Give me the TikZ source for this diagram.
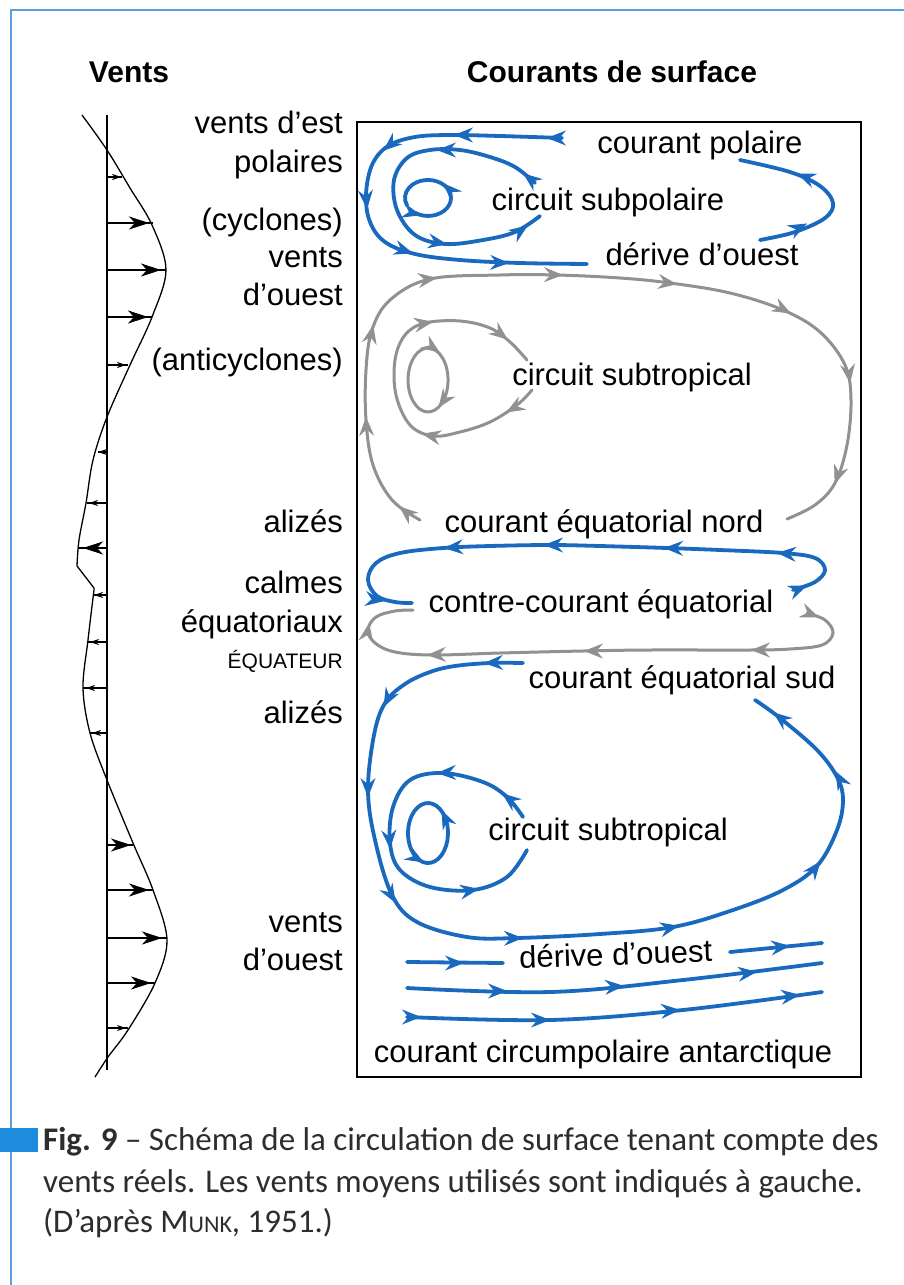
\documentclass[tikz,border=0pt]{standalone}
\usepackage{fontspec}
\setmainfont{Liberation Sans}
\newfontfamily\capfont{Carlito}
\usetikzlibrary{arrows.meta}
\definecolor{cblue}{RGB}{25,105,190}
\definecolor{cgray}{RGB}{145,145,145}
\definecolor{frameblue}{RGB}{90,160,225}
\definecolor{squareblue}{RGB}{30,140,220}
\definecolor{captext}{RGB}{45,45,45}
\tikzset{
  cur/.tip={Stealth[length=19pt,width=15pt,inset=6.5pt]},
  wbig/.tip={Stealth[length=20pt,width=13pt,inset=6pt]},
  wsmall/.tip={Stealth[length=9pt,width=6pt,inset=3pt]},
  bl/.style={color=cblue,line width=3.8pt,line cap=round},
  gr/.style={color=cgray,line width=3pt,line cap=round},
  blt/.style={color=cblue,line width=1pt,-{cur}},
  grt/.style={color=cgray,line width=1pt,-{cur}},
  wline/.style={draw=black,line width=1.3pt},
  wbt/.style={draw=black,line width=0.8pt,-{wbig}},
  wst/.style={draw=black,line width=0.8pt,-{wsmall}},
  lbl/.style={font=\fontsize{31}{37}\selectfont,inner sep=0pt},
  lblsmall/.style={font=\fontsize{21}{25}\selectfont,inner sep=0pt},
  ttl/.style={font=\fontsize{30}{36}\selectfont\bfseries,inner sep=0pt},
  captxt/.style={font=\capfont\fontsize{33}{42}\selectfont,text=captext,inner sep=0pt,anchor=base west},
}
% arrowhead on a current: style, x, y, direction (clockwise on screen from east)
\newcommand{\tipon}[4]{\draw[#1] (#2,#3) -- ++(#4:1);}
\begin{document}
\begin{tikzpicture}[x=1pt,y=-1pt]
\useasboundingbox (0,0) rectangle (904,1285);
\fill[white] (0,0) rectangle (904,1285);
% frame lines
\draw[frameblue,line width=2pt] (11,1285) -- (11,10) -- (904,10);
\fill[squareblue] (0,1128) rectangle (38,1152);

% titles
\node[ttl] (tv) at (129,72) {Vents};
\node[ttl] (tc) at (612,72) {Courants de surface};

% left wind profile
\draw[line width=1.3pt] (107,115) -- (107,1070);
\draw[line width=1.3pt] plot[smooth,tension=0.55] coordinates {(82,115) (107,150) (130,188) (152,225) (166,270) (152,317) (130,365) (107,417) (93,460) (86,503) (79,540) (77,566)}
  -- (94,588) -- plot[smooth,tension=0.55] coordinates {(94,590) (88,640) (83,688) (90,733) (107,780) (133,843) (153,890) (167,940) (155,983) (128,1030) (108,1057) (95,1077)};
% wind arrows: shaft to the curve, then tip
\foreach \y/\xe/\xt/\k in {177/122/121/wst, 223/153/149/wbt, 270/166/161/wbt, 317/152/148/wbt, 365/128/126/wst,
  452/98/98/wst, 503/87/89/wst, 548/78/83/wbt, 595/93/94/wst, 642/88/90/wst, 688/83/86/wst, 733/90/92/wst,
  845/133/131/wbt, 890/153/149/wbt, 938/167/162/wbt, 983/155/151/wbt, 1028/128/126/wst}{
  \draw[wline] (107,\y) -- (\xe,\y);
  \draw[\k] (107,\y) -- (\xt,\y);
}

% left labels
\node[lbl,anchor=base east] (l1) at (343,133) {vents d’est};
\node[lbl,anchor=base east] (l2) at (343,172) {polaires};
\node[lbl,anchor=base east] (l3) at (343,230) {(cyclones)};
\node[lbl,anchor=base east] (l4) at (343,267) {vents};
\node[lbl,anchor=base east] (l5) at (343,305) {d’ouest};
\node[lbl,anchor=base east] (l6) at (343,370) {(anticyclones)};
\node[lbl,anchor=base east] (l7) at (343,532) {alizés};
\node[lbl,anchor=base east] (l8) at (343,593) {calmes};
\node[lbl,anchor=base east] (l9) at (343,632) {équatoriaux};
\node[lblsmall,anchor=base east] (l10) at (343,668) {ÉQUATEUR};
\node[lbl,anchor=base east] (l11) at (343,723) {alizés};
\node[lbl,anchor=base east] (l12) at (343,932) {vents};
\node[lbl,anchor=base east] (l13) at (343,970) {d’ouest};

% box
\draw[line width=1.8pt] (357,122) rectangle (861,1077);

% right labels
\node[lbl,anchor=base] (r1) at (700,153) {courant polaire};
\node[lbl,anchor=base] (r2) at (608,210) {circuit subpolaire};
\node[lbl,anchor=base] (r3) at (702,265) {dérive d’ouest};
\node[lbl,anchor=base] (r4) at (632,385) {circuit subtropical};
\node[lbl,anchor=base] (r5) at (604,532) {courant équatorial nord};
\node[lbl,anchor=base] (r6) at (601,612) {contre-courant équatorial};
\node[lbl,anchor=base] (r7) at (682,688) {courant équatorial sud};
\node[lbl,anchor=base] (r8) at (608,840) {circuit subtropical};
\node[lbl,anchor=base,rotate=2] (r9) at (616,965) {dérive d’ouest};
\node[lbl,anchor=base] (r10) at (603,1062) {courant circumpolaire antarctique};

% ---- North subpolar (blue)
\draw[bl] plot[smooth,tension=0.6] coordinates {(562,138) (500,136) (450,135) (415,137) (388,146) (372,165) (366,195) (370,222) (385,242) (415,254) (460,260) (520,263) (587,264)};
\tipon{blt}{548}{138}{180} \tipon{blt}{455}{135}{180} \tipon{blt}{384}{150}{140}
\tipon{blt}{367}{208}{85} \tipon{blt}{412}{253}{18} \tipon{blt}{508}{263}{2}
\draw[bl] plot[smooth,tension=0.6] coordinates {(535,183) (515,167) (490,157) (460,150) (430,150) (407,158) (394,180) (397,210) (415,235) (445,244) (483,240) (515,232) (540,216)};
\tipon{blt}{524}{174}{-142} \tipon{blt}{438}{150}{180} \tipon{blt}{446}{244}{10} \tipon{blt}{527}{226}{-35}
\draw[bl] (414.8,212.7) arc[start angle=125,end angle=-205,x radius=23,y radius=18];
\tipon{blt}{420}{215}{15} \tipon{blt}{444}{184}{-135}
\draw[bl] plot[smooth,tension=0.6] coordinates {(760,240) (795,232) (825,218) (833,203) (820,186) (790,172) (740,160)};
\tipon{blt}{806}{224}{-27} \tipon{blt}{798}{174}{-158}

% ---- North subtropical (gray)
\draw[gr] plot[smooth,tension=0.6] coordinates {(420,520) (392,500) (373,465) (366,420) (366,370) (372,330) (390,300) (430,279) (500,275) (557,275) (620,278) (670,283) (730,293) (783,310) (820,332) (845,365) (851,400) (847,445) (835,483) (815,505) (787,519)};
\tipon{grt}{400}{507}{-140} \tipon{grt}{366}{418}{-92} \tipon{grt}{373}{326}{-78}
\tipon{grt}{436}{278}{-8} \tipon{grt}{562}{275}{1} \tipon{grt}{676}{284}{8}
\tipon{grt}{790}{313}{28} \tipon{grt}{850}{382}{82} \tipon{grt}{835}{483}{110}
\draw[gr] plot[smooth,tension=0.6] coordinates {(532,390) (517,405) (490,422) (460,432) (433,436) (410,425) (396,395) (395,360) (405,335) (425,323) (460,321) (490,328) (510,342) (527,360)};
\tipon{grt}{507}{412}{150} \tipon{grt}{423}{434}{-168} \tipon{grt}{432}{322}{-10} \tipon{grt}{507}{339}{38}
\draw[gr] (421.2,349.9) arc[start angle=-110,end angle=250,x radius=20,y radius=32];
\tipon{grt}{439}{352}{35} \tipon{grt}{439}{407}{125}

% ---- Equatorial
\draw[bl] plot[smooth,tension=0.6] coordinates {(793,590) (815,582) (825,570) (815,558) (783,553) (720,550) (667,548) (600,546) (550,545) (490,546) (443,548) (400,553) (376,563) (368,580) (377,596) (395,602) (412,603)};
\tipon{blt}{806}{586}{-22} \tipon{blt}{778}{553}{-176} \tipon{blt}{665}{548}{-179}
\tipon{blt}{545}{545}{180} \tipon{blt}{445}{548}{176} \tipon{blt}{383}{601}{8}
\draw[gr] plot[smooth,tension=0.6] coordinates {(807,613) (825,620) (833,633) (822,645) (790,649) (750,650) (650,650) (583,651) (500,653) (433,655) (395,652) (375,643) (368,630) (376,617) (395,611) (413,610)};
\tipon{grt}{818}{617}{22} \tipon{grt}{752}{650}{180} \tipon{grt}{585}{651}{180}
\tipon{grt}{428}{655}{178} \tipon{grt}{369}{624}{-80}

% ---- South subtropical (blue)
\draw[bl] plot[smooth,tension=0.6] coordinates {(523,663) (490,663) (455,666) (430,672) (405,684) (385,703) (374,735) (368,790) (375,840) (392,895) (417,922) (467,937) (517,938) (600,934) (673,927) (733,910) (783,890) (817,866) (837,830) (843,800) (837,777) (817,750) (780,718) (755,700)};
\tipon{blt}{485}{663}{178} \tipon{blt}{384}{706}{118} \tipon{blt}{368}{796}{90}
\tipon{blt}{395}{902}{60} \tipon{blt}{522}{938}{-1} \tipon{blt}{678}{926}{-12}
\tipon{blt}{820}{862}{-52} \tipon{blt}{836}{772}{-118} \tipon{blt}{774}{713}{-142}
\draw[bl] plot[smooth,tension=0.6] coordinates {(523,817) (507,797) (483,782) (443,773) (410,780) (393,807) (390,843) (400,870) (430,887) (473,890) (507,877) (527,850)};
\tipon{blt}{503}{794}{-142} \tipon{blt}{438}{773}{178} \tipon{blt}{390}{848}{86} \tipon{blt}{478}{889}{-10}
\draw[bl] (409.2,843.3) arc[start angle=160,end angle=-200,x radius=20,y radius=30];
\tipon{blt}{423}{862}{30} \tipon{blt}{442}{811}{-115}

% ---- West wind drift / ACC
\draw[bl] (407,962) -- (503,963);
\tipon{blt}{463}{963}{0}
\draw[bl] (730,952) -- (822,943);
\tipon{blt}{789}{946}{-6}
\draw[bl] plot[smooth,tension=0.6] coordinates {(407,988) (550,992) (683,980) (822,963)};
\tipon{blt}{506}{991}{0} \tipon{blt}{623}{986}{-4} \tipon{blt}{756}{972}{-7}
\draw[bl] plot[smooth,tension=0.6] coordinates {(407,1017) (550,1020) (683,1010) (822,992)};
\tipon{blt}{420}{1017}{0} \tipon{blt}{549}{1020}{0} \tipon{blt}{679}{1010}{-4} \tipon{blt}{799}{995}{-7}

% caption
\node[captxt] (c1) at (43,1150) {{\bfseries Fig. 9} – Schéma de la circulation de surface tenant compte des};
\node[captxt] (c2) at (43,1192) {vents réels. Les vents moyens utilisés sont indiqués à gauche.};
\node[captxt] (c3) at (43,1232) {(D’après M{\fontsize{24}{24}\selectfont UNK}, 1951.)};
\end{tikzpicture}
\end{document}
